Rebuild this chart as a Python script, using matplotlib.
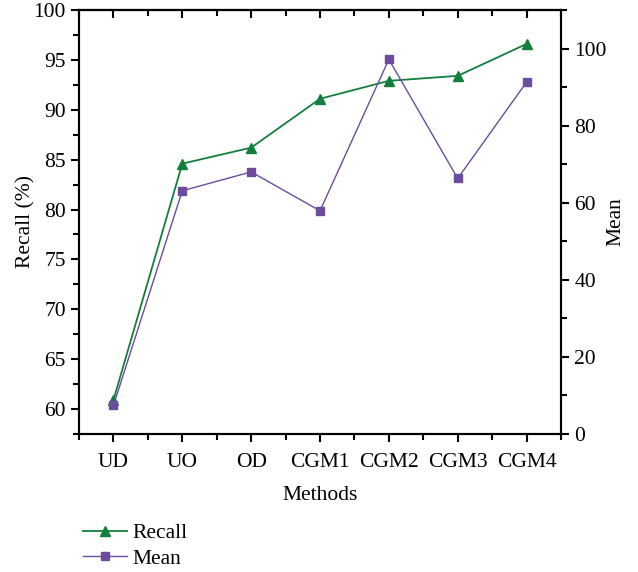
import numpy as np
import matplotlib.pyplot as plt
from matplotlib.ticker import MultipleLocator

plt.rcParams['font.family'] = ['Liberation Serif', 'DejaVu Serif']
plt.rcParams['font.size'] = 15.5

methods = ["UD", "UO", "OD", "CGM1", "CGM2", "CGM3", "CGM4"]
recall = [60.9, 84.6, 86.2, 91.1, 92.9, 93.4, 96.6]
mean = [7.4, 63.1, 68.0, 57.9, 97.2, 66.3, 91.3]

green = "#12803c"
purple = "#6b4c9e"

fig = plt.figure(figsize=(6.38, 5.72), dpi=100)
ax = fig.add_axes([79 / 638, 1 - 434 / 572, (561 - 79) / 638, (434 - 10) / 572])
x = np.arange(len(methods))

l1, = ax.plot(x, recall, color=green, lw=1.3, marker="^", ms=7, label="Recall")
ax2 = ax.twinx()
l2, = ax2.plot(x, mean, color=purple, lw=1.0, marker="s", ms=6, label="Mean")

ax.set_xlim(-0.5, 6.5)
ax.set_ylim(57.5, 100)
ax2.set_ylim(0, 110)
ax.set_xticks(x)
ax.set_xticklabels(methods)
ax.xaxis.set_minor_locator(MultipleLocator(0.5))
ax.yaxis.set_major_locator(MultipleLocator(5))
ax.yaxis.set_minor_locator(MultipleLocator(2.5))
ax2.yaxis.set_major_locator(MultipleLocator(20))
ax2.yaxis.set_minor_locator(MultipleLocator(10))

# top ticks point inward, the others outward
top = ax.secondary_xaxis("top")
top.set_xticks(x)
top.xaxis.set_minor_locator(MultipleLocator(0.5))
top.tick_params(axis="x", which="both", direction="in", labeltop=False, width=1.5)
top.tick_params(axis="x", which="major", length=6)
top.tick_params(axis="x", which="minor", length=4)

ax.tick_params(axis="x", which="both", direction="out", width=1.5)
ax.tick_params(axis="x", which="major", length=6, pad=8)
ax.tick_params(axis="x", which="minor", length=4)
ax.tick_params(axis="y", which="both", direction="out", width=1.5)
ax.tick_params(axis="y", which="major", length=6)
ax.tick_params(axis="y", which="minor", length=4)
ax2.tick_params(axis="y", which="both", direction="out", width=1.5)
ax2.tick_params(axis="y", which="major", length=6)
ax2.tick_params(axis="y", which="minor", length=4)
for a in (ax, ax2, top):
    for s in a.spines.values():
        s.set_linewidth(1.5)

ax.set_xlabel("Methods", labelpad=10)
ax.set_ylabel("Recall (%)")
ax2.set_ylabel("Mean")
ax.yaxis.set_label_coords(-0.09, 0.5)
ax2.yaxis.set_label_coords(1.095, 0.5)

fig.legend(handles=[l1, l2], loc="upper left", bbox_to_anchor=(0.116, 0.10),
           frameon=False, handlelength=2.05, handletextpad=0.25, labelspacing=0.25,
           borderaxespad=0)

fig.savefig("out.png", dpi=100)
